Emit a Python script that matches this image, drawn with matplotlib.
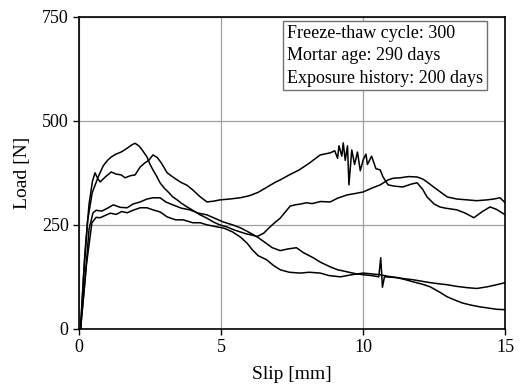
import matplotlib
matplotlib.use("Agg")
import matplotlib.pyplot as plt

# slip [mm] / load [N]
slip_a = [0.05, 0.15, 0.3, 0.46, 0.67, 0.85, 1.0, 1.13, 1.3, 1.48, 1.6, 1.75, 1.85, 1.97,
          2.1, 2.2, 2.39, 2.5, 2.6, 2.72, 2.85, 3.0, 3.15, 3.3, 3.45, 3.6, 3.8, 4.0, 4.26,
          4.5, 4.72, 4.95, 5.2, 5.45, 5.67, 5.9, 6.1, 6.27, 6.5, 6.72, 6.9, 7.08, 7.25,
          7.43, 7.6, 7.8, 8.0, 8.2, 8.5, 8.84, 9.1, 9.44, 9.7, 10.0, 10.3, 10.6, 10.88,
          11.06, 11.3, 11.6, 11.9, 12.1, 12.25, 12.5, 12.7, 12.96, 13.3, 13.66, 14.0,
          14.37, 14.6, 14.82, 15.0]
load_a = [0, 120, 260, 327, 365, 392, 405, 413, 420, 425, 430, 437, 442, 446,
          440, 432, 413, 395, 382, 368, 351, 338, 328, 317, 310, 302, 293, 285, 274,
          266, 257, 250, 245, 238, 233, 228, 225, 222, 230, 245, 256, 266, 280,
          295, 298, 300, 303, 301, 306, 305, 314, 322, 325, 329, 338, 346, 358,
          362, 363, 366, 365, 360, 353, 340, 330, 317, 312, 310, 308,
          310, 312, 315, 303]

slip_b = [0.05, 0.2, 0.35, 0.47, 0.56, 0.65, 0.74, 0.92, 1.13, 1.3, 1.48, 1.62, 1.8, 1.97,
          2.15, 2.3, 2.45, 2.6, 2.75, 2.9, 3.1, 3.3, 3.56, 3.8, 4.0, 4.25, 4.5, 4.75, 4.96,
          5.3, 5.67, 6.0, 6.3, 6.6, 6.9, 7.08, 7.4, 7.75, 8.1, 8.49, 8.84, 9.0, 9.1, 9.15,
          9.25, 9.3, 9.37, 9.45, 9.5, 9.6, 9.7, 9.8, 9.9, 10.0, 10.1, 10.15, 10.3, 10.45,
          10.6, 10.7, 10.88, 11.1, 11.4, 11.7, 11.9, 12.1, 12.25, 12.5, 12.7, 12.9, 13.1,
          13.3, 13.6, 13.9, 14.2, 14.47, 14.7, 15.0]
load_b = [0, 180, 300, 355, 375, 362, 353, 365, 377, 372, 370, 363, 368, 370,
          389, 398, 405, 418, 412, 398, 375, 365, 353, 345, 334, 318, 305, 307, 310,
          312, 315, 320, 328, 340, 352, 358, 370, 382, 398, 418, 423, 428, 410, 440,
          415, 447, 405, 440, 346, 430, 395, 425, 380, 406, 420, 395, 415, 385,
          382, 365, 346, 343, 341, 348, 351, 335, 317, 300, 293, 290, 288,
          286, 278, 267, 282, 293, 287, 274]

slip_c = [0.05, 0.2, 0.35, 0.49, 0.6, 0.8, 1.0, 1.2, 1.45, 1.69, 1.9, 2.15, 2.39, 2.6,
          2.85, 3.05, 3.3, 3.6, 3.9, 4.2, 4.5, 4.8, 5.07, 5.4, 5.67, 5.9, 6.27, 6.6, 6.8,
          7.08, 7.35, 7.65, 7.9, 8.24, 8.5, 8.84, 9.1, 9.44, 9.7, 10.0, 10.3, 10.55, 10.62,
          10.68, 10.75, 11.0, 11.2, 11.5, 11.76, 12.1, 12.36, 12.7, 12.96, 13.2, 13.5,
          13.8, 14.1, 14.4, 14.7, 15.0]
load_c = [0, 110, 240, 279, 285, 283, 290, 298, 292, 291, 300, 305, 312, 315,
          315, 305, 298, 290, 286, 278, 274, 265, 257, 250, 243, 235, 221, 205, 195,
          188, 192, 195, 183, 171, 160, 149, 142, 137, 133, 130, 128, 125, 171,
          100, 125, 124, 123, 118, 113, 107, 101, 88, 77, 70, 62,
          57, 53, 50, 47, 46]

slip_d = [0.05, 0.25, 0.45, 0.6, 0.74, 0.9, 1.1, 1.3, 1.5, 1.69, 1.9, 2.15, 2.39, 2.6,
          2.85, 3.1, 3.4, 3.66, 4.0, 4.26, 4.5, 4.86, 5.1, 5.4, 5.67, 5.9, 6.1, 6.3, 6.6,
          6.85, 7.08, 7.4, 7.78, 8.1, 8.49, 8.8, 9.2, 9.6, 10.0, 10.3, 10.6, 10.9, 11.2,
          11.5, 11.76, 12.1, 12.36, 12.7, 12.96, 13.3, 13.66, 14.0, 14.37, 14.7, 15.0]
load_d = [0, 150, 255, 268, 267, 272, 278, 275, 282, 279, 285, 291, 291, 286,
          281, 269, 262, 262, 255, 255, 250, 245, 242, 233, 221, 207, 190, 176, 166,
          152, 142, 136, 134, 136, 134, 128, 125, 130, 134, 132, 130, 126, 123,
          120, 118, 114, 111, 108, 106, 102, 99, 97, 101, 106, 111]

info_lines = ["Freeze-thaw cycle: 300", "Mortar age: 290 days", "Exposure history: 200 days"]

plt.rcParams["font.family"] = ["Liberation Serif", "DejaVu Serif"]

fig = plt.figure(figsize=(5.24, 3.91), dpi=100)
ax = fig.add_axes([0.151, 0.159, 0.813, 0.798])

for xs, ys in [(slip_a, load_a), (slip_b, load_b), (slip_c, load_c), (slip_d, load_d)]:
    ax.plot(xs, ys, color="black", linewidth=1.1)

ax.set_xlim(0, 15)
ax.set_ylim(0, 750)
ax.set_xticks([0, 5, 10, 15])
ax.set_yticks([0, 250, 500, 750])
ax.grid(True, color="#a0a0a0", linewidth=0.9)
ax.set_axisbelow(True)
ax.tick_params(direction="out", length=4.5, width=1, labelsize=13, pad=3)
for s in ax.spines.values():
    s.set_linewidth(1.2)

ax.set_xlabel("Slip [mm]", fontsize=14, labelpad=7)
ax.set_ylabel("Load [N]", fontsize=14, labelpad=8)

ax.text(0.488, 0.975, "\n".join(info_lines), transform=ax.transAxes,
        ha="left", va="top", fontsize=13, linespacing=1.43,
        bbox=dict(boxstyle="square,pad=0.2", facecolor="white",
                  edgecolor="#707070", linewidth=1.0))

fig.savefig("out.png", dpi=100)
